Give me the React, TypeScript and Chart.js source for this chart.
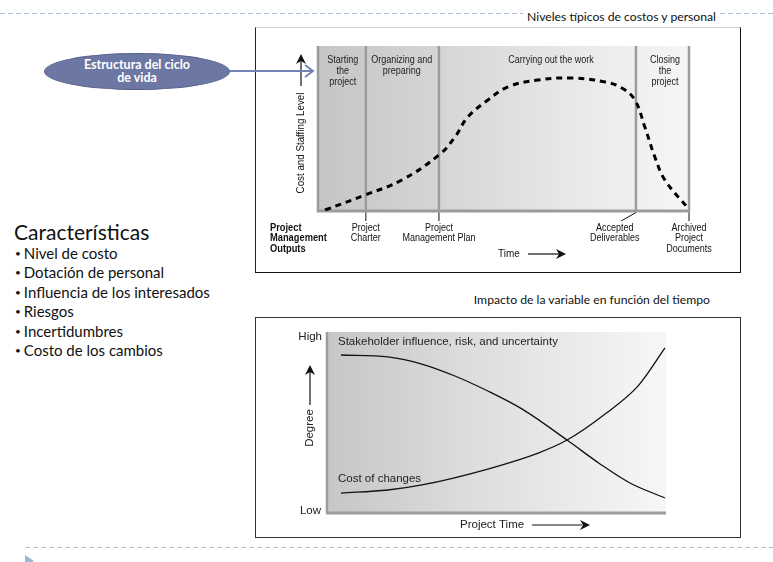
import React, { useEffect, useRef } from "react";
import { Chart, registerables } from "chart.js";

Chart.register(...registerables);

// ---------- data: life cycle chart ----------
const phaseBounds = [0, 12.9, 32.6, 85.7, 100];
const phaseNames = [
  ["Starting", "the", "project"],
  ["Organizing and", "preparing"],
  ["Carrying out the work"],
  ["Closing", "the", "project"],
];
const phaseLabelAt = [6.7, 22.6, 62.8, 93.5];
const outputNames = [
  ["Project", "Charter"],
  ["Project", "Management Plan"],
  ["Accepted", "Deliverables"],
  ["Archived", "Project", "Documents"],
];
const outputAt = [12.9, 32.6, 85.7, 100];
const outputLabelAt = [12.9, 32.6, 80, 100];
const effortX = [1.9, 12.7, 22.6, 32.9, 36.9, 40.4, 45.8, 51.2, 59.3, 68.5, 77.4, 81.9, 85.4, 88.1, 90.8, 93.5, 99.7];
const effortY = [0.6, 9.7, 18.8, 34.5, 44.8, 57.0, 67.3, 75.2, 79.4, 80.6, 78.2, 74.5, 67.3, 50.9, 32.7, 18.8, 1.8];

// ---------- data: impact over time chart ----------
const influenceX = [4.4, 18.2, 28.2, 37.9, 47.6, 57.6, 70.9, 80.6, 89.4, 99.7];
const influenceY = [87.3, 86.2, 82.3, 75.7, 67.4, 57.5, 40.3, 27.1, 16.6, 8.3];
const changeCostX = [4.4, 18.2, 28.2, 47.6, 62.4, 70.9, 82.1, 91.8, 99.7];
const changeCostY = [11.0, 12.7, 15.5, 24.3, 33.1, 40.3, 54.7, 70.2, 91.2];

const characteristics = [
  "Nivel de costo",
  "Dotación de personal",
  "Influencia de los interesados",
  "Riesgos",
  "Incertidumbres",
  "Costo de los cambios",
];

const NARROW = '"Liberation Sans Narrow", "Liberation Sans", Arial, sans-serif';
const SANS = '"Liberation Sans", Arial, sans-serif';
const GILL = 'Lato, "Open Sans", sans-serif';

function line(ctx: CanvasRenderingContext2D, x1: number, y1: number, x2: number, y2: number) {
  ctx.beginPath();
  ctx.moveTo(x1, y1);
  ctx.lineTo(x2, y2);
  ctx.stroke();
}

function text(ctx: CanvasRenderingContext2D, t: string, x: number, y: number, sx = 0.9) {
  ctx.save();
  ctx.translate(x, y);
  ctx.scale(sx, 1);
  ctx.fillText(t, 0, 0);
  ctx.restore();
}

function arrowHead(ctx: CanvasRenderingContext2D, x: number, y: number, dir: "up" | "right", size = 8) {
  ctx.beginPath();
  if (dir === "up") {
    ctx.moveTo(x, y);
    ctx.lineTo(x - size / 2, y + size);
    ctx.lineTo(x, y + size * 0.7);
    ctx.lineTo(x + size / 2, y + size);
  } else {
    ctx.moveTo(x, y);
    ctx.lineTo(x - size, y - size / 2);
    ctx.lineTo(x - size * 0.7, y);
    ctx.lineTo(x - size, y + size / 2);
  }
  ctx.closePath();
  ctx.fill();
}

const lifecyclePlugin = {
  id: "lifecycle",
  beforeDatasetsDraw(chart: any) {
    const { ctx, chartArea: a, scales } = chart;
    const x = scales.x;
    ctx.save();
    const g = ctx.createLinearGradient(a.left, 0, a.right, 0);
    g.addColorStop(0, "#c5c5c5");
    g.addColorStop(0.3, "#d4d4d4");
    g.addColorStop(0.7, "#e9e9e9");
    g.addColorStop(1, "#f6f6f6");
    ctx.fillStyle = g;
    ctx.fillRect(a.left, a.top, a.right - a.left, a.bottom - a.top);
    ctx.strokeStyle = "#9c9c9c";
    ctx.lineWidth = 2.5;
    phaseBounds.forEach((b) => {
      const px = x.getPixelForValue(b);
      line(ctx, px, a.top, px, a.bottom);
    });
    ctx.lineWidth = 3;
    line(ctx, a.left - 1.2, a.bottom, a.right + 1.2, a.bottom);

    ctx.fillStyle = "#222";
    ctx.font = `10px ${NARROW}`;
    ctx.textAlign = "center";
    ctx.textBaseline = "middle";
    phaseNames.forEach((lines, i) => {
      const cx = x.getPixelForValue(phaseLabelAt[i]);
      lines.forEach((t, j) => text(ctx, t, cx, a.top + 14 + j * 11));
    });
    ctx.restore();
  },
  afterDraw(chart: any) {
    const { ctx, chartArea: a, scales } = chart;
    const x = scales.x;
    ctx.save();
    ctx.strokeStyle = "#111";
    ctx.fillStyle = "#111";
    ctx.lineWidth = 1;
    ctx.font = `10px ${NARROW}`;
    ctx.textAlign = "center";
    ctx.textBaseline = "middle";
    outputNames.forEach((lines, i) => {
      const px = x.getPixelForValue(outputAt[i]);
      const lx = x.getPixelForValue(outputLabelAt[i]);
      line(ctx, px, a.bottom + 1.5, px + (lx - px) * 0.7, a.bottom + 10);
      lines.forEach((t, j) => text(ctx, t, lx, a.bottom + 17 + j * 10.7));
    });
    ctx.font = `bold 10px ${NARROW}`;
    ctx.textAlign = "left";
    ["Project", "Management", "Outputs"].forEach((t, j) =>
      text(ctx, t, a.left - 48, a.bottom + 17 + j * 10.7, 0.93)
    );
    // Time arrow
    ctx.font = `10.5px ${NARROW}`;
    text(ctx, "Time", a.left + 180, a.bottom + 43, 0.95);
    ctx.lineWidth = 1.2;
    line(ctx, a.left + 210, a.bottom + 43, a.left + 242, a.bottom + 43);
    arrowHead(ctx, a.left + 248, a.bottom + 43, "right", 10);
    // Y axis arrow and title
    const ax = a.left - 17;
    line(ctx, ax, a.top + 14, ax, a.top + 40);
    arrowHead(ctx, ax, a.top + 8, "up", 10);
    ctx.translate(ax, a.top + 97);
    ctx.rotate(-Math.PI / 2);
    ctx.textAlign = "center";
    ctx.font = `10.5px ${NARROW}`;
    text(ctx, "Cost and Staffing Level", 0, 0, 0.93);
    ctx.restore();
  },
};

const impactPlugin = {
  id: "impact",
  beforeDatasetsDraw(chart: any) {
    const { ctx, chartArea: a } = chart;
    ctx.save();
    const g = ctx.createLinearGradient(a.left, 0, a.right, 0);
    g.addColorStop(0, "#c6c6c6");
    g.addColorStop(0.45, "#dedede");
    g.addColorStop(1, "#f7f7f7");
    ctx.fillStyle = g;
    ctx.fillRect(a.left, a.top, a.right - a.left, a.bottom - a.top);
    ctx.strokeStyle = "#9c9c9c";
    ctx.lineWidth = 2.5;
    line(ctx, a.left + 1, a.top, a.left + 1, a.bottom);
    ctx.lineWidth = 3;
    line(ctx, a.left, a.bottom, a.right, a.bottom);

    ctx.fillStyle = "#222";
    ctx.font = `11.5px ${SANS}`;
    ctx.textBaseline = "middle";
    ctx.textAlign = "left";
    ctx.fillText("Stakeholder influence, risk, and uncertainty", a.left + 12, a.top + 10);
    ctx.fillText("Cost of changes", a.left + 12, a.bottom - 34);
    ctx.restore();
  },
  afterDraw(chart: any) {
    const { ctx, chartArea: a } = chart;
    ctx.save();
    ctx.fillStyle = "#222";
    ctx.strokeStyle = "#111";
    ctx.font = `11.5px ${SANS}`;
    ctx.textBaseline = "middle";
    ctx.textAlign = "right";
    ctx.fillText("High", a.left - 4, a.top + 5);
    ctx.fillText("Low", a.left - 5, a.bottom - 2);
    ctx.textAlign = "left";
    ctx.fillText("Project Time", a.left + 134, a.bottom + 12);
    ctx.lineWidth = 1.2;
    line(ctx, a.left + 206, a.bottom + 12, a.left + 256, a.bottom + 12);
    ctx.fillStyle = "#111";
    arrowHead(ctx, a.left + 264, a.bottom + 12, "right", 10);
    const ax = a.left - 16;
    line(ctx, ax, a.top + 40, ax, a.top + 73);
    arrowHead(ctx, ax, a.top + 33, "up", 10);
    ctx.fillStyle = "#222";
    ctx.translate(ax, a.top + 96);
    ctx.rotate(-Math.PI / 2);
    ctx.textAlign = "center";
    ctx.fillText("Degree", 0, 0);
    ctx.restore();
  },
};

const hiddenScales = {
  x: { type: "linear" as const, min: 0, max: 100, display: false },
  y: { type: "linear" as const, min: 0, max: 100, display: false },
};

export default function App() {
  const ref1 = useRef<HTMLCanvasElement>(null);
  const ref2 = useRef<HTMLCanvasElement>(null);

  useEffect(() => {
    const c1 = new Chart(ref1.current!, {
      type: "line",
      data: {
        datasets: [
          {
            data: effortX.map((x, i) => ({ x, y: effortY[i] })),
            borderColor: "#000",
            borderWidth: 3,
            borderDash: [6, 5],
            pointRadius: 0,
            tension: 0.4,
            fill: false,
          },
        ],
      },
      options: {
        animation: false,
        responsive: false,
        events: [],
        layout: { padding: { left: 62, right: 50, top: 18, bottom: 60 } },
        scales: hiddenScales,
        plugins: { legend: { display: false }, tooltip: { enabled: false } },
      },
      plugins: [lifecyclePlugin],
    } as any);
    const c2 = new Chart(ref2.current!, {
      type: "line",
      data: {
        datasets: [
          {
            label: "Stakeholder influence, risk, and uncertainty",
            data: influenceX.map((x, i) => ({ x, y: influenceY[i] })),
            borderColor: "#111",
            borderWidth: 1.3,
            pointRadius: 0,
            cubicInterpolationMode: "monotone",
            fill: false,
          },
          {
            label: "Cost of changes",
            data: changeCostX.map((x, i) => ({ x, y: changeCostY[i] })),
            borderColor: "#111",
            borderWidth: 1.3,
            pointRadius: 0,
            cubicInterpolationMode: "monotone",
            fill: false,
          },
        ],
      },
      options: {
        animation: false,
        responsive: false,
        events: [],
        layout: { padding: { left: 70, right: 73, top: 13, bottom: 23 } },
        scales: hiddenScales,
        plugins: { legend: { display: false }, tooltip: { enabled: false } },
      },
      plugins: [impactPlugin],
    } as any);
    return () => {
      c1.destroy();
      c2.destroy();
    };
  }, []);

  const dash = "repeating-linear-gradient(to right, #a9bcd5 0 5px, transparent 5px 8px)";

  return (
    <div style={{ position: "absolute", left: 0, top: 0, width: 773, height: 562, background: "#fff", overflow: "hidden", fontFamily: GILL }}>
      <div style={{ position: "absolute", left: 0, top: 13, width: 773, height: 1, background: dash }} />
      <div style={{ position: "absolute", left: 25, top: 547, width: 748, height: 1, background: dash }} />
      <div style={{ position: "absolute", left: 25, top: 555, width: 0, height: 0, borderTop: "6px solid transparent", borderBottom: "6px solid transparent", borderLeft: "9px solid #a3b6cf" }} />

      <div style={{ position: "absolute", right: 53, top: 9, fontSize: 12.2, lineHeight: "15px", color: "#111", background: "#fff", padding: "0 4px" }}>
        Niveles típicos de costos y personal
      </div>
      <div style={{ position: "absolute", right: 63, top: 292, fontSize: 12.2, lineHeight: "15px", color: "#111" }}>
        Impacto de la variable en función del tiempo
      </div>

      {/* boxes */}
      <div style={{ position: "absolute", left: 255, top: 27, width: 486, height: 246, boxSizing: "border-box", borderLeft: "1px solid #222", borderRight: "1.5px solid #111", borderBottom: "1.5px solid #111", borderTop: "1px solid #cfcfcf" }} />
      <div style={{ position: "absolute", left: 255, top: 317, width: 486, height: 221, boxSizing: "border-box", border: "1.5px solid #333" }} />

      <canvas ref={ref1} width={483} height={243} style={{ position: "absolute", left: 256, top: 28, width: 483, height: 243 }} />
      <canvas ref={ref2} width={483} height={217} style={{ position: "absolute", left: 256, top: 319, width: 483, height: 217 }} />

      {/* ellipse callout */}
      <div style={{ position: "absolute", left: 44, top: 53, width: 186, height: 37, boxSizing: "border-box", borderRadius: "50%", background: "#6c78a3", border: "1.5px solid #58638c", color: "#fff", fontWeight: 700, fontSize: 12.5, lineHeight: "13px", textAlign: "center", paddingTop: 4 }}>
        Estructura del ciclo
        <br />
        de vida
      </div>
      <svg style={{ position: "absolute", left: 228, top: 60, width: 90, height: 22 }} width={90} height={22}>
        <line x1={2} y1={11} x2={84} y2={11} stroke="#7384b4" strokeWidth={2} />
        <polyline points="77,5 85,11 77,17" fill="none" stroke="#7384b4" strokeWidth={2} />
      </svg>

      {/* left text */}
      <div style={{ position: "absolute", left: 14, top: 219, fontSize: 21, lineHeight: "26px", color: "#111" }}>Características</div>
      {characteristics.map((t, i) => (
        <div key={t} style={{ position: "absolute", left: 15, top: 243 + i * 19.4, fontSize: 15, lineHeight: "20px", color: "#111", whiteSpace: "nowrap" }}>
          <span style={{ fontSize: 10, marginRight: 3, position: "relative", top: -2 }}>•</span>
          {t}
        </div>
      ))}
    </div>
  );
}
